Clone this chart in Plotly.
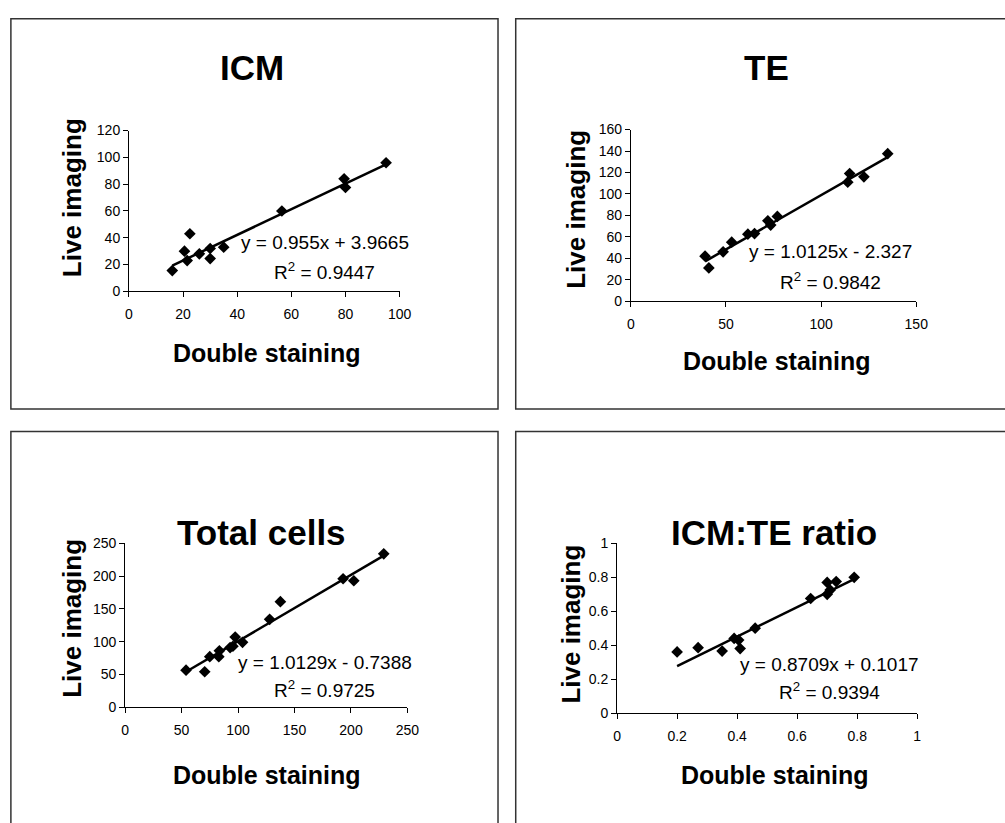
import plotly.graph_objects as go

W, H = 1005, 823

# ---------------- data ----------------
icm_x = [16, 20.5, 22.5, 21.5, 26, 30, 30, 35, 56.5, 79.5, 80, 95]
icm_y = [15.5, 30, 43, 23, 28, 24.5, 32, 33, 60, 84, 77.5, 96]

te_x = [39, 41, 48.5, 53, 61.5, 65, 72, 73.5, 77, 114, 115, 122.5, 135]
te_y = [42, 31, 46, 55, 62.5, 63, 75, 71, 79, 111, 119, 116, 137.5]

tot_x = [54, 70.5, 75, 83, 83.5, 93, 95.5, 97.5, 104, 128, 137.5, 193, 202.5, 229]
tot_y = [56.5, 54, 77, 77, 86, 91, 93, 107, 99, 134, 161, 196, 193, 234]

rat_x = [0.20, 0.27, 0.35, 0.39, 0.405, 0.41, 0.46, 0.645, 0.70, 0.70, 0.71, 0.73, 0.79]
rat_y = [0.36, 0.385, 0.365, 0.44, 0.43, 0.38, 0.50, 0.675, 0.70, 0.77, 0.725, 0.775, 0.80]

titles = ["ICM", "TE", "Total cells", "ICM:TE ratio"]
slopes = [0.955, 1.0125, 1.0129, 0.8709]
intercepts = [3.9665, -2.327, -0.7388, 0.1017]
equations = ["y = 0.955x + 3.9665", "y = 1.0125x - 2.327", "y = 1.0129x - 0.7388", "y = 0.8709x + 0.1017"]
r2_texts = ["R<sup>2</sup> = 0.9447", "R<sup>2</sup> = 0.9842", "R<sup>2</sup> = 0.9725", "R<sup>2</sup> = 0.9394"]
x_ranges = [[0, 100], [0, 150], [0, 250], [0, 1]]
y_ranges = [[0, 120], [0, 160], [0, 250], [0, 1]]
x_dticks = [20, 50, 50, 0.2]
y_dticks = [20, 20, 50, 0.2]
x_label = "Double staining"
y_label = "Live imaging"

series = [(icm_x, icm_y), (te_x, te_y), (tot_x, tot_y), (rat_x, rat_y)]

# ---------------- layout geometry (pixels) ----------------
plot_px = [  # x0, x1, ytop, ybottom
    (127, 402, 125, 289),
    (637, 927, 124, 299),
    (123, 410, 546, 713),
    (623, 928, 546, 719),
]
boxes_px = [(7, 502, 11, 409), (520, 1030, 11, 409), (7, 502, 432, 850), (520, 1030, 432, 850)]
title_pos = [(252, 61), (775, 61), (262, 535), (782, 535)]
eq_pos = [(326, 239), (840, 248), (326, 667), (839, 670)]
r2_pos = [(326, 268), (840, 278), (326, 695), (839, 697)]
xlab_pos = [(267, 352), (785, 360), (267, 782), (783, 782)]
ylab_pos = [(69, 193), (581, 205), (69, 622), (576, 628)]

def px(x):
    return x / W

def py(y):
    return 1 - y / H

FONT = "Liberation Sans, Arial, sans-serif"

fig = go.Figure()
layout = dict(
    width=W, height=H,
    margin=dict(l=0, r=0, t=0, b=0),
    paper_bgcolor="white", plot_bgcolor="white",
    showlegend=False,
    font=dict(family=FONT, color="black"),
)
annotations = []
shapes = []

for i in range(4):
    xs, ys = series[i]
    xa = "x" if i == 0 else f"x{i+1}"
    ya = "y" if i == 0 else f"y{i+1}"
    fig.add_trace(go.Scatter(
        x=xs, y=ys, mode="markers", xaxis=xa, yaxis=ya,
        marker=dict(symbol="diamond", size=9, color="black"),
        cliponaxis=False,
    ))
    lx = [min(xs), max(xs)]
    ly = [slopes[i] * v + intercepts[i] for v in lx]
    fig.add_trace(go.Scatter(
        x=lx, y=ly, mode="lines", xaxis=xa, yaxis=ya,
        line=dict(color="black", width=2.5),
        cliponaxis=False,
    ))
    x0, x1, yt, yb = plot_px[i]
    kx = "xaxis" if i == 0 else f"xaxis{i+1}"
    ky = "yaxis" if i == 0 else f"yaxis{i+1}"
    layout[kx] = dict(
        domain=[px(x0), px(x1)], anchor=ya, range=x_ranges[i],
        dtick=x_dticks[i], tick0=0, showgrid=False, zeroline=False,
        showline=True, linecolor="black", linewidth=1,
        ticks="outside", ticklen=5, tickcolor="black", tickwidth=1,
        tickfont=dict(size=14, family=FONT, color="black"),
        ticklabelstandoff=5,
    )
    layout[ky] = dict(
        domain=[py(yb), py(yt)], anchor=xa, range=y_ranges[i],
        dtick=y_dticks[i], tick0=0, showgrid=False, zeroline=False,
        showline=True, linecolor="black", linewidth=1,
        ticks="outside", ticklen=5, tickcolor="black", tickwidth=1,
        tickfont=dict(size=14, family=FONT, color="black"),
    )
    bx0, bx1, by0, by1 = boxes_px[i]
    shapes.append(dict(
        type="rect", xref="paper", yref="paper",
        x0=px(bx0), x1=px(bx1), y0=py(by1), y1=py(by0),
        line=dict(color="#333333", width=1.5), fillcolor="rgba(0,0,0,0)",
    ))
    annotations.append(dict(
        text=f"<b>{titles[i]}</b>", x=px(title_pos[i][0]), y=py(title_pos[i][1]),
        xref="paper", yref="paper", showarrow=False, xanchor="center", yanchor="middle",
        font=dict(size=35, family=FONT, color="black"),
    ))
    annotations.append(dict(
        text=equations[i], x=px(eq_pos[i][0]), y=py(eq_pos[i][1]),
        xref="paper", yref="paper", showarrow=False, xanchor="center", yanchor="middle",
        font=dict(size=19, family=FONT, color="black"),
    ))
    annotations.append(dict(
        text=r2_texts[i], x=px(r2_pos[i][0]), y=py(r2_pos[i][1]),
        xref="paper", yref="paper", showarrow=False, xanchor="center", yanchor="middle",
        font=dict(size=19, family=FONT, color="black"),
    ))
    annotations.append(dict(
        text=f"<b>{x_label}</b>", x=px(xlab_pos[i][0]), y=py(xlab_pos[i][1]),
        xref="paper", yref="paper", showarrow=False, xanchor="center", yanchor="middle",
        font=dict(size=25, family=FONT, color="black"),
    ))
    annotations.append(dict(
        text=f"<b>{y_label}</b>", x=px(ylab_pos[i][0]), y=py(ylab_pos[i][1]),
        xref="paper", yref="paper", showarrow=False, xanchor="center", yanchor="middle",
        textangle=-90,
        font=dict(size=26, family=FONT, color="black"),
    ))

layout["annotations"] = annotations
layout["shapes"] = shapes
fig.update_layout(**layout)
fig.write_html("out.html")
